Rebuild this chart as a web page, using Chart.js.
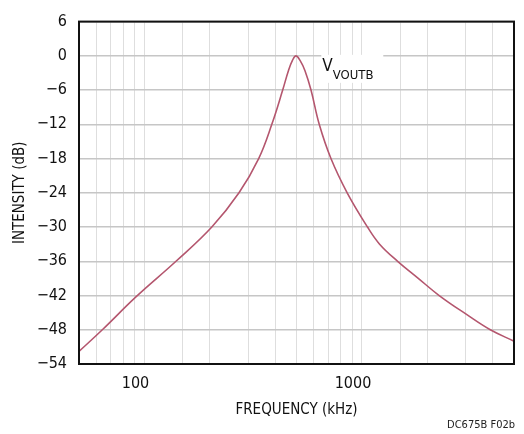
<!DOCTYPE html>
<html lang="en">
<head>
    <meta charset="UTF-8">
    <title>Intensity vs Frequency</title>
    <script src="https://cdn.jsdelivr.net/npm/chart.js@4.4.0/dist/chart.umd.min.js"></script>
    <style>
        html, body { margin: 0; padding: 0; background: #fff; }
        #wrap { width: 524px; height: 434px; }
    </style>
</head>
<body>
    <div id="wrap"><canvas id="chart" width="524" height="434"></canvas></div>

    <script>
        // values
        const freqKHz = [50, 64, 91.6, 139.6, 204, 272, 335, 385, 432, 459, 479, 497,
                         519, 547, 583, 636, 720, 855, 1060, 1205, 1459, 1803, 2265, 3048, 3891, 5000];
        const intensityDb = [-51.8, -48, -42.2, -36, -30, -24, -18, -12, -6, -2.6, -0.8, 0,
                             -0.8, -2.6, -6, -12, -18, -24, -30, -33, -36, -38.9, -42, -45.4, -48, -50];
        const xLabels = [100, 1000];
        const yTicks = [6, 0, -6, -12, -18, -24, -30, -36, -42, -48, -54];

        const FONT = "'Liberation Sans Narrow', 'DejaVu Sans Condensed', 'Liberation Sans', sans-serif";

        // frame round the plot, curve label and figure code
        const extras = {
            id: 'extras',
            afterDatasetsDraw(chart) {
                const { ctx, chartArea: a, scales } = chart;
                ctx.save();
                // label box
                const lx = scales.x.getPixelForValue(650);
                const ly = scales.y.getPixelForValue(0);
                ctx.fillStyle = '#fff';
                ctx.fillRect(lx, ly - 1, 62, 28);
                ctx.fillStyle = '#111';
                ctx.textBaseline = 'alphabetic';
                ctx.font = '17px ' + FONT;
                ctx.fillText('V', lx + 1, ly + 15);
                const w = ctx.measureText('V').width;
                ctx.font = '13px ' + FONT;
                ctx.fillText('VOUTB', lx + 1 + w, ly + 23);
                // frame
                ctx.strokeStyle = '#111';
                ctx.lineWidth = 2;
                ctx.strokeRect(a.left, a.top, a.right - a.left, a.bottom - a.top);
                // figure code
                ctx.font = '11px ' + FONT;
                ctx.textAlign = 'right';
                ctx.textBaseline = 'middle';
                ctx.fillStyle = '#222';
                ctx.fillText('DC675B F02b', 515, 425);
                ctx.restore();
            }
        };

        new Chart(document.getElementById('chart'), {
            type: 'line',
            data: {
                datasets: [{
                    data: freqKHz.map((f, i) => ({ x: f, y: intensityDb[i] })),
                    borderColor: '#b4566e',
                    borderWidth: 1.6,
                    pointRadius: 0,
                    tension: 0.4,
                    fill: false
                }]
            },
            options: {
                responsive: false,
                animation: false,
                events: [],
                layout: { padding: { top: 13, right: 7, left: 0, bottom: 0 } },
                plugins: { legend: { display: false }, tooltip: { enabled: false } },
                scales: {
                    x: {
                        type: 'logarithmic',
                        min: 50,
                        max: 5000,
                        afterFit(scale) { scale.height = 70; },
                        grid: { color: '#dedede', lineWidth: 1, drawTicks: false },
                        border: { display: false },
                        ticks: {
                            autoSkip: false,
                            maxRotation: 0,
                            padding: 10,
                            labelOffset: -9,
                            color: '#111',
                            font: { family: FONT, size: 16 },
                            callback: v => xLabels.includes(v) ? String(v) : ''
                        },
                        title: {
                            display: true,
                            text: 'FREQUENCY (kHz)',
                            color: '#111',
                            font: { family: FONT, size: 15 },
                            padding: { top: 0, bottom: 15 }
                        }
                    },
                    y: {
                        min: -54,
                        max: 6,
                        afterFit(scale) { scale.width = 79; },
                        afterBuildTicks(scale) { scale.ticks = yTicks.map(v => ({ value: v })); },
                        grid: { color: '#c6c6c6', lineWidth: 1.5, drawTicks: false },
                        border: { display: false },
                        ticks: {
                            padding: 12,
                            color: '#111',
                            font: { family: FONT, size: 16 },
                            callback: v => v < 0 ? '\u2212' + Math.abs(v) : String(v)
                        },
                        title: {
                            display: true,
                            text: 'INTENSITY (dB)',
                            color: '#111',
                            font: { family: FONT, size: 15 },
                            padding: { top: 11, bottom: 0 }
                        }
                    }
                }
            },
            plugins: [extras]
        });
    </script>
</body>
</html>
